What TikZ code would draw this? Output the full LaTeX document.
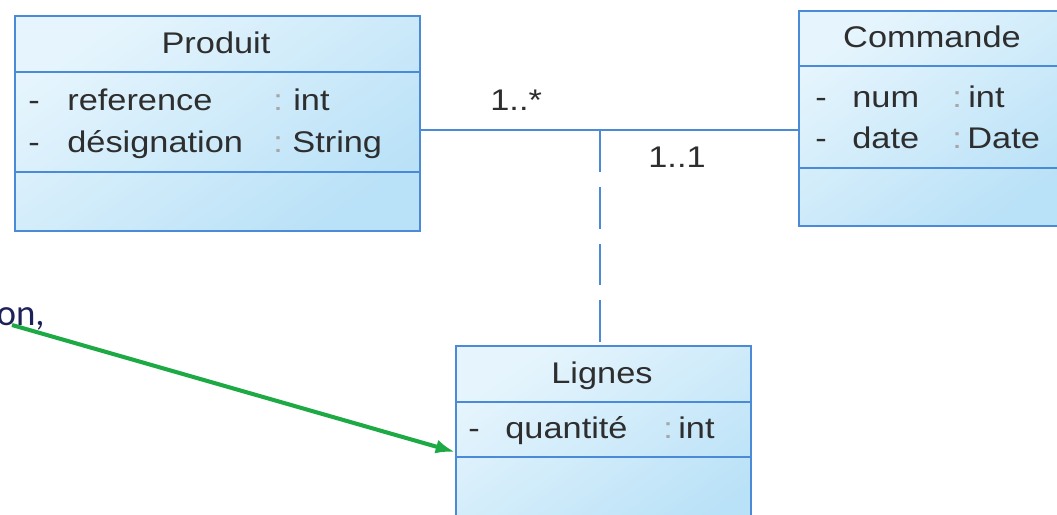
\documentclass[tikz,border=0pt]{standalone}
\usepackage{fontspec}
\setmainfont[FakeStretch=1.15]{Liberation Sans}
\newfontfamily\notefont{Carlito}
\usetikzlibrary{arrows.meta}

\definecolor{umlline}{HTML}{4A8AD6}
\definecolor{umltop}{HTML}{E6F5FD}
\definecolor{umlbot}{HTML}{B9E1F7}
\definecolor{umltext}{HTML}{2E2E2E}
\definecolor{notenavy}{HTML}{1E2258}
\definecolor{notegreen}{HTML}{1DAA45}

\tikzset{
  classbox/.style={draw=umlline, line width=1.2pt, top color=umltop, bottom color=umlbot,
    shading angle=35, inner sep=0pt, anchor=north west},
  sepline/.style={draw=umlline, line width=1.2pt},
  assoc/.style={draw=umlline, line width=1.2pt},
  txt/.style={anchor=base west, inner sep=0pt, text=umltext, font=\fontsize{17}{20}\selectfont},
  title/.style={txt, anchor=base},
  colon/.style={txt, text=black!35},
}

\begin{document}
\begin{tikzpicture}[x=0.02cm, y=-0.02cm]
    \useasboundingbox (0,0) rectangle (1057,514);
    \clip (0,0) rectangle (1057,514);

    % classes
    \node[classbox, minimum width=8.1cm, minimum height=4.3cm] (produit) at (14,15) {};
    \node[classbox, minimum width=5.4cm, minimum height=4.3cm] (commande) at (798,10) {};
    \node[classbox, minimum width=5.9cm, minimum height=4cm] (lignes) at (455,345) {};

    \draw[sepline] (14,72) -- (419,72);
    \draw[sepline] (14,172) -- (419,172);
    \draw[sepline] (798,66) -- (1070,66);
    \draw[sepline] (798,168) -- (1070,168);
    \draw[sepline] (455,402) -- (750,402);
    \draw[sepline] (455,457) -- (750,457);

    % Produit
    \node[title] (produitnom) at (216,53) {Produit};
    \node[txt] (pref1) at (28,110) {-};
    \node[txt] (pref2) at (67,110) {reference};
    \node[colon] (pref3) at (273,110) {:};
    \node[txt] (pref4) at (293,110) {int};
    \node[txt] (pdes1) at (28,152) {-};
    \node[txt] (pdes2) at (67,152) {désignation};
    \node[colon] (pdes3) at (273,152) {:};
    \node[txt] (pdes4) at (292,152) {String};

    % Commande
    \node[title] (commandenom) at (932,47) {Commande};
    \node[txt] (cnum1) at (815,107) {-};
    \node[txt] (cnum2) at (852,107) {num};
    \node[colon] (cnum3) at (952,107) {:};
    \node[txt] (cnum4) at (968,107) {int};
    \node[txt] (cdate1) at (815,148) {-};
    \node[txt] (cdate2) at (852,148) {date};
    \node[colon] (cdate3) at (952,148) {:};
    \node[txt] (cdate4) at (967,148) {Date};

    % Lignes
    \node[title] (lignesnom) at (602,383) {Lignes};
    \node[txt] (lqte1) at (468,438) {-};
    \node[txt] (lqte2) at (505,438) {quantité};
    \node[colon] (lqte3) at (663,438) {:};
    \node[txt] (lqte4) at (678,438) {int};

    % association + classe d'association
    \coordinate (milieu) at (600,130);
    \draw[assoc] (produit.east |- milieu) -- (commande.west |- milieu);
    \draw[assoc, dash pattern=on 23.8pt off 8.5pt] (milieu) -- (milieu |- lignes.north);
    \node[txt] (multprod) at (490,110) {1..*};
    \node[txt] (multcmd) at (648,167) {1..1};

    % note
    \node[anchor=base east, inner sep=0pt, text=notenavy, font=\notefont\fontsize{21}{24}\selectfont] (note) at (45,325) {on,};
    \coordinate (notepied) at (12,325);
    \draw[notegreen, line width=2.3pt, -{Latex[length=11pt,width=8pt]}] (notepied) -- (lignes.west |- 0,452);
\end{tikzpicture}
\end{document}
